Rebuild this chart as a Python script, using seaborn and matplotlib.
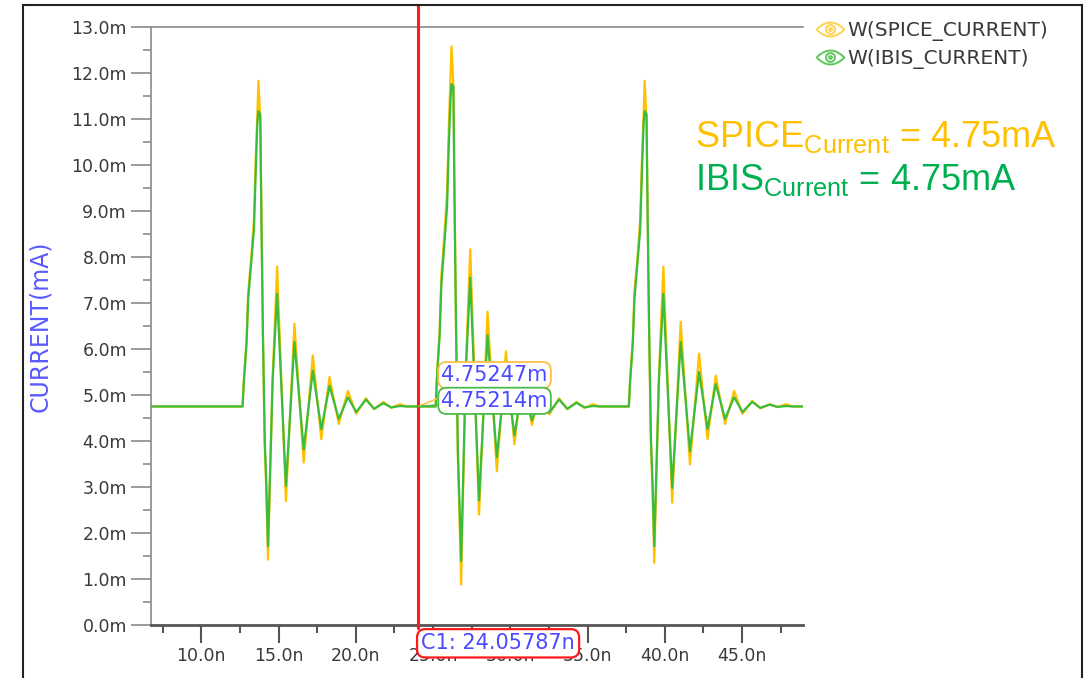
import numpy as np
import pandas as pd
import matplotlib
matplotlib.use('Agg')
import matplotlib.pyplot as plt
import seaborn as sns
from matplotlib.path import Path
from matplotlib.lines import Line2D
from matplotlib.patches import Rectangle
from matplotlib.ticker import MultipleLocator, FuncFormatter

# ---- data (ns / mA) ----
baseline = 4.75
t_window = [6.75, 48.95]
burst_start = [12.67, 25.17, 37.67]

# sample times inside one burst, relative to its start (ns)
t_rel = [0.00, 0.02, 0.09, 0.26, 0.37, 0.57, 0.74, 0.85, 0.96, 1.03, 1.15,
         1.22, 1.32, 1.44, 1.54, 1.65, 1.95, 2.24, 2.81, 3.36, 3.96, 4.55,
         5.10, 5.63, 6.23, 6.82, 7.36, 7.99, 8.52, 9.12, 9.63, 10.20, 10.60]

spice_1 = [4.75, 4.88, 5.35, 6.20, 7.25, 8.00, 8.80, 10.10, 11.10, 11.83, 11.00,
           9.10, 6.30, 3.90, 2.90, 1.42, 5.40, 7.79, 2.69, 6.55, 3.53, 5.86,
           4.04, 5.39, 4.37, 5.09, 4.59, 4.93, 4.69, 4.85, 4.72, 4.80, 4.75]
ibis_1 = [4.75, 4.85, 5.30, 6.10, 7.10, 7.90, 8.60, 9.80, 10.90, 11.17, 11.10,
          8.90, 6.40, 4.00, 3.10, 1.71, 5.30, 7.20, 3.02, 6.15, 3.82, 5.53,
          4.26, 5.20, 4.48, 4.95, 4.63, 4.90, 4.70, 4.82, 4.73, 4.76, 4.75]

spice_2 = [4.75, 4.90, 5.45, 6.40, 7.60, 8.50, 9.40, 10.80, 11.90, 12.58, 11.70,
           9.50, 6.40, 3.60, 2.40, 0.88, 5.60, 8.17, 2.40, 6.81, 3.34, 5.95,
           3.93, 5.45, 4.35, 5.12, 4.58, 4.93, 4.69, 4.85, 4.72, 4.80, 4.75]
ibis_2 = [4.75, 4.87, 5.40, 6.30, 7.40, 8.30, 9.10, 10.40, 11.40, 11.76, 11.70,
          9.30, 6.50, 3.80, 2.70, 1.39, 5.50, 7.55, 2.71, 6.30, 3.65, 5.60,
          4.12, 5.25, 4.45, 5.00, 4.62, 4.90, 4.70, 4.83, 4.73, 4.76, 4.75]

spice_3 = [4.75, 4.88, 5.35, 6.20, 7.25, 8.00, 8.80, 10.10, 11.10, 11.83, 11.00,
           9.10, 6.30, 3.90, 2.90, 1.35, 5.40, 7.79, 2.66, 6.59, 3.49, 5.90,
           4.04, 5.42, 4.37, 5.09, 4.59, 4.87, 4.71, 4.80, 4.74, 4.80, 4.75]
ibis_3 = [4.75, 4.85, 5.30, 6.10, 7.10, 7.90, 8.60, 9.80, 10.90, 11.17, 11.10,
          8.90, 6.40, 4.00, 3.10, 1.71, 5.30, 7.20, 2.98, 6.15, 3.78, 5.50,
          4.26, 5.24, 4.48, 4.95, 4.63, 4.85, 4.72, 4.79, 4.74, 4.76, 4.75]

cursor_t = 24.05787
marker_vals = [4.75247, 4.75214]
series_names = ['W(SPICE_CURRENT)', 'W(IBIS_CURRENT)']

spice_color = '#ffc000'
ibis_color = '#3cbc3c'


def build_series(bursts):
    t = [t_window[0]]
    v = [baseline]
    for start, vals in zip(burst_start, bursts):
        t += [start + r for r in t_rel]
        v += vals
    t.append(t_window[1])
    v.append(baseline)
    return t, v


t_sp, v_sp = build_series([spice_1, spice_2, spice_3])
t_ib, v_ib = build_series([ibis_1, ibis_2, ibis_3])
df = pd.concat([
    pd.DataFrame({'time_ns': t_sp, 'current_mA': v_sp, 'signal': 'SPICE'}),
    pd.DataFrame({'time_ns': t_ib, 'current_mA': v_ib, 'signal': 'IBIS'}),
])

# ---- figure ----
sns.set_style('white')
plt.rcParams['font.family'] = ['DejaVu Sans']
plt.rcParams['mathtext.fontset'] = 'custom'
plt.rcParams['mathtext.rm'] = 'Liberation Sans'

fig = plt.figure(figsize=(10.89, 6.78), dpi=100)
ax = fig.add_axes([0.1387, 0.0782, 0.5987, 0.8820])

sns.lineplot(data=df, x='time_ns', y='current_mA', hue='signal',
             hue_order=['SPICE', 'IBIS'],
             palette={'SPICE': spice_color, 'IBIS': ibis_color},
             estimator=None, sort=False, legend=False, linewidth=1.6, ax=ax)

ax.set_xlim(t_window)
ax.set_ylim(0, 13)
ax.set_xlabel('')
ax.set_ylabel('CURRENT(mA)', color='#5a5aff', fontsize=17)
ax.yaxis.set_label_coords(-0.152, 0.5)

ax.yaxis.set_major_locator(MultipleLocator(1))
ax.yaxis.set_minor_locator(MultipleLocator(0.5))
ax.xaxis.set_major_locator(MultipleLocator(5))
ax.xaxis.set_minor_locator(MultipleLocator(2.5))
ax.yaxis.set_major_formatter(FuncFormatter(lambda v, p: f'{v:.1f}m'))
ax.xaxis.set_major_formatter(FuncFormatter(lambda v, p: f'{v:.1f}n'))

ax.tick_params(axis='y', which='major', length=14.4, width=1.2, color='#8a8a8a',
               labelsize=12.5, labelcolor='#3a3a3a', pad=3, direction='out', left=True)
ax.tick_params(axis='y', which='minor', length=5.8, width=1.2, color='#8a8a8a',
               direction='out', left=True)
ax.tick_params(axis='x', which='major', length=13, width=1.5, color='#555555',
               labelsize=12.5, labelcolor='#3a3a3a', pad=3, direction='out', bottom=True)
ax.tick_params(axis='x', which='minor', length=5.6, width=1.5, color='#555555',
               direction='out', bottom=True)

for side in ['left', 'top']:
    ax.spines[side].set_color('#8a8a8a')
    ax.spines[side].set_linewidth(1.2)
ax.spines['bottom'].set_color('#555555')
ax.spines['bottom'].set_linewidth(2.0)
ax.spines['right'].set_visible(False)

# cursor
ax.axvline(cursor_t, ymin=-0.005, ymax=1.037, color='#ff1a1a', lw=2.2,
           clip_on=False, zorder=4)
ax.annotate(f'C1: {cursor_t:.5f}n', xy=(cursor_t, 0), xycoords='data',
            xytext=(2, -6), textcoords='offset points', ha='left', va='top',
            fontsize=15, color='#4a4aff', annotation_clip=False, zorder=6,
            bbox=dict(boxstyle='round,pad=0.2,rounding_size=0.4', fc='white',
                      ec='#ff1a1a', lw=1.6))

# marker value labels
box_colors = ['#f7c244', '#4cbb4c']
offsets = [(16.5, 22.5), (16.5, 4)]
for val, col, off in zip(marker_vals, box_colors, offsets):
    ax.annotate(f'{val:.5f}m', xy=(cursor_t, val), xycoords='data',
                xytext=off, textcoords='offset points', ha='left', va='center',
                fontsize=15, color='#4a4aff', zorder=7,
                bbox=dict(boxstyle='round,pad=0.15,rounding_size=0.4', fc='white',
                          ec=col, lw=1.3),
                arrowprops=dict(arrowstyle='-', color=col, lw=1.2,
                                shrinkA=0, shrinkB=0))

# eye-shaped legend markers
xs = np.linspace(-1, 1, 25)
almond = np.vstack([np.column_stack([xs, 0.5 * (1 - xs ** 2)]),
                    np.column_stack([xs[::-1], -0.5 * (1 - xs[::-1] ** 2)])])
eye = Path.make_compound_path(Path(almond), Path.circle((0, 0), 0.32),
                              Path.circle((0, 0), 0.1))
handles = [Line2D([], [], ls='none', marker=eye, ms=20, mfc='none',
                  mec=c, mew=1.4) for c in ['#ffd24d', '#5cc65c']]
ax.legend(handles, series_names, loc='upper left',
          bbox_to_anchor=(0.749, 0.9686), bbox_transform=fig.transFigure,
          frameon=False, fontsize=14.5, handlelength=1.4, handletextpad=0.15,
          labelspacing=0.4, borderpad=0, borderaxespad=0, labelcolor='#3a3a3a')

# value callouts
fig.text(0.6382, 0.7832, r'SPICE$_{\mathrm{Current}}$ = 4.75mA', fontsize=26,
         family='Liberation Sans', color='#ffc000', va='baseline', ha='left')
fig.text(0.6382, 0.7198, r'IBIS$_{\mathrm{Current}}$ = 4.75mA', fontsize=26,
         family='Liberation Sans', color='#00b050', va='baseline', ha='left')

# outer frame of the screenshot
fig.add_artist(Rectangle((23 / 1089, -0.02), (1081.5 - 23) / 1089, 1.02 - 5.5 / 678,
                         transform=fig.transFigure, fill=False, ec='#222222',
                         lw=1.5))

fig.savefig('out.png', dpi=100)
